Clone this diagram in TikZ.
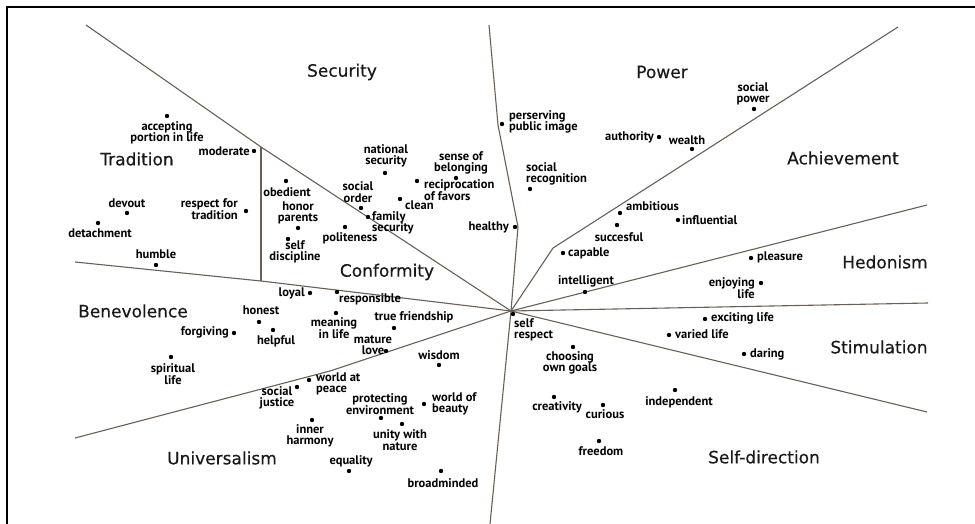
\documentclass[tikz,border=0pt]{standalone}
\usepackage{fontspec}
\setmainfont{PT Sans}
\newfontfamily\regionfont[FakeBold=0.4]{DejaVu Sans}
\usetikzlibrary{calc,positioning}
\definecolor{borderbrown}{RGB}{105,95,85}

\begin{document}
\begin{tikzpicture}[x=1pt,y=-1pt]
    \tikzstyle{region border}=[line width=1.1pt, draw=borderbrown, line join=round];
    \tikzstyle{value dot}=[circle, fill=black, inner sep=0pt, minimum size=4.4pt];
    \tikzstyle{value label}=[inner sep=0pt, font=\bfseries\fontsize{12.5}{11.6}\selectfont];
    \tikzstyle{region label}=[inner sep=0pt, text=black!90, font=\regionfont\fontsize{17}{18}\selectfont];

    \useasboundingbox (0,0) rectangle (975,524);
    \draw[line width=2pt] (7,524) -- (7,7) -- (975,7);

    \coordinate (c) at (511,311);
    \draw[region border] (86,25) -- (261,147) -- (c);
    \draw[region border] (75,262) -- (261,281) -- (c);
    \draw[region border] (261,147) -- (261,281);
    \draw[region border] (489,25) -- (498,125) -- (518,227) -- (c) -- (490,524);
    \draw[region border] (c) -- (553,248) -- (898,27);
    \draw[region border] (c) -- (927,205);
    \draw[region border] (c) -- (928,303);
    \draw[region border] (c) -- (927,412);
    \draw[region border] (c) -- (330,371) -- (75,438);

    \foreach \n/\x/\y in {accept/167/116, moderate/254/151, devout/127/213, detach/98/223, humble/156/265,
      resptrad/246/211, obedient/286/181, honor/298/228, selfdisc/288/239, loyal/310/293,
      natsec/385/173, belong/456/178, recip/417/181, order/361/208, clean/400/199, famsec/368/217,
      polite/345/227, healthy/515/227, respons/337/292, image/502/124, socpower/754/109,
      authority/659/137, wealth/692/149, recog/530/189, ambit/620/213, influ/678/220, succ/617/225,
      capable/563/253, intell/585/292, pleasure/751/258, enjoy/761/283, exciting/705/319,
      varied/669/335, daring/744/354, selfresp/513/314, goals/573/347, creat/554/397,
      curious/603/405, indep/675/390, freedom/599/441, honest/259/322, forgiving/234/333,
      helpful/273/330, meaning/336/313, spiritual/171/357, justice/297/387, peace/309/380,
      inner/312/420, equality/349/471, friend/394/328, mature/386/351, wisdom/439/365,
      environ/381/418, beauty/424/404, unity/402/424, broad/441/471} {
      \node[value dot] (\n) at (\x,\y) {};
    }

    \foreach \n/\x/\y/\txt in {accept/167/133/{accepting\\portion in life}, devout/127/203/devout,
      detach/100/233/detachment, humble/156/254/humble, obedient/287/192/obedient,
      honor/298/213/{honor\\parents}, selfdisc/295/252/{self\\discipline},
      natsec/386/156/{national\\security}, belong/461/163/{sense of\\belonging},
      order/358/192/{social\\order}, polite/350/238/politeness, socpower/753/94/{social\\power},
      wealth/687/140/wealth, succ/619/237/succesful, intell/586/281/intelligent,
      goals/570/363/{choosing\\own goals}, creat/557/407/creativity, curious/605/414/curious,
      indep/679/402/independent, freedom/601/451/freedom, honest/261/310/honest,
      helpful/276/341/helpful, meaning/334/328/{meaning\\in life}, spiritual/173/374/{spiritual\\life},
      justice/277/398/{social\\justice}, inner/310/436/{inner\\harmony}, equality/351/461/equality,
      friend/414/317/{true friendship}, mature/373/345/{mature\\love}, wisdom/439/355/wisdom,
      environ/380/404/{protecting\\environment}, unity/400/440/{unity with\\nature},
      broad/443/483/broadminded} {
      \node[value label, align=center] (l-\n) at (\x,\y) {\txt};
    }

    \foreach \n/\x/\y/\txt in {recip/424/190/{reciprocation\\of favors}, clean/405/205/clean,
      famsec/372/223/{family\\security}, respons/339/299/responsible,
      image/509/122/{perserving\\public image}, recog/526/174/{social\\recognition},
      ambit/626/206/ambitious, influ/682/220/influential, capable/568/253/capable,
      pleasure/757/257/pleasure, exciting/711/318/{exciting life}, varied/675/334/{varied life},
      daring/750/354/daring, selfresp/514/330/{self\\respect}, peace/316/384/{world at\\peace},
      beauty/432/404/{world of\\beauty}} {
      \node[value label, anchor=west, align=left] (l-\n) at (\x,\y) {\txt};
    }

    \foreach \n/\x/\y/\txt in {moderate/250/151/moderate, resptrad/238/209/{respect for\\tradition},
      loyal/305/293/loyal, healthy/509/227/healthy, authority/654/137/authority,
      forgiving/229/332/forgiving, enjoy/755/288/{enjoying\\life}} {
      \node[value label, anchor=east, align=right] (l-\n) at (\x,\y) {\txt};
    }

    \foreach \x/\y/\txt in {342/72/Security, 662/72/Power, 137/159/Tradition, 843/158/Achievement,
      387/272/Conformity, 885/262/Hedonism, 133/311/Benevolence, 879/347/Stimulation,
      222/458/Universalism, 764/457/Self-direction} {
      \node[region label] (\txt) at (\x,\y) {\txt};
    }
\end{tikzpicture}
\end{document}
